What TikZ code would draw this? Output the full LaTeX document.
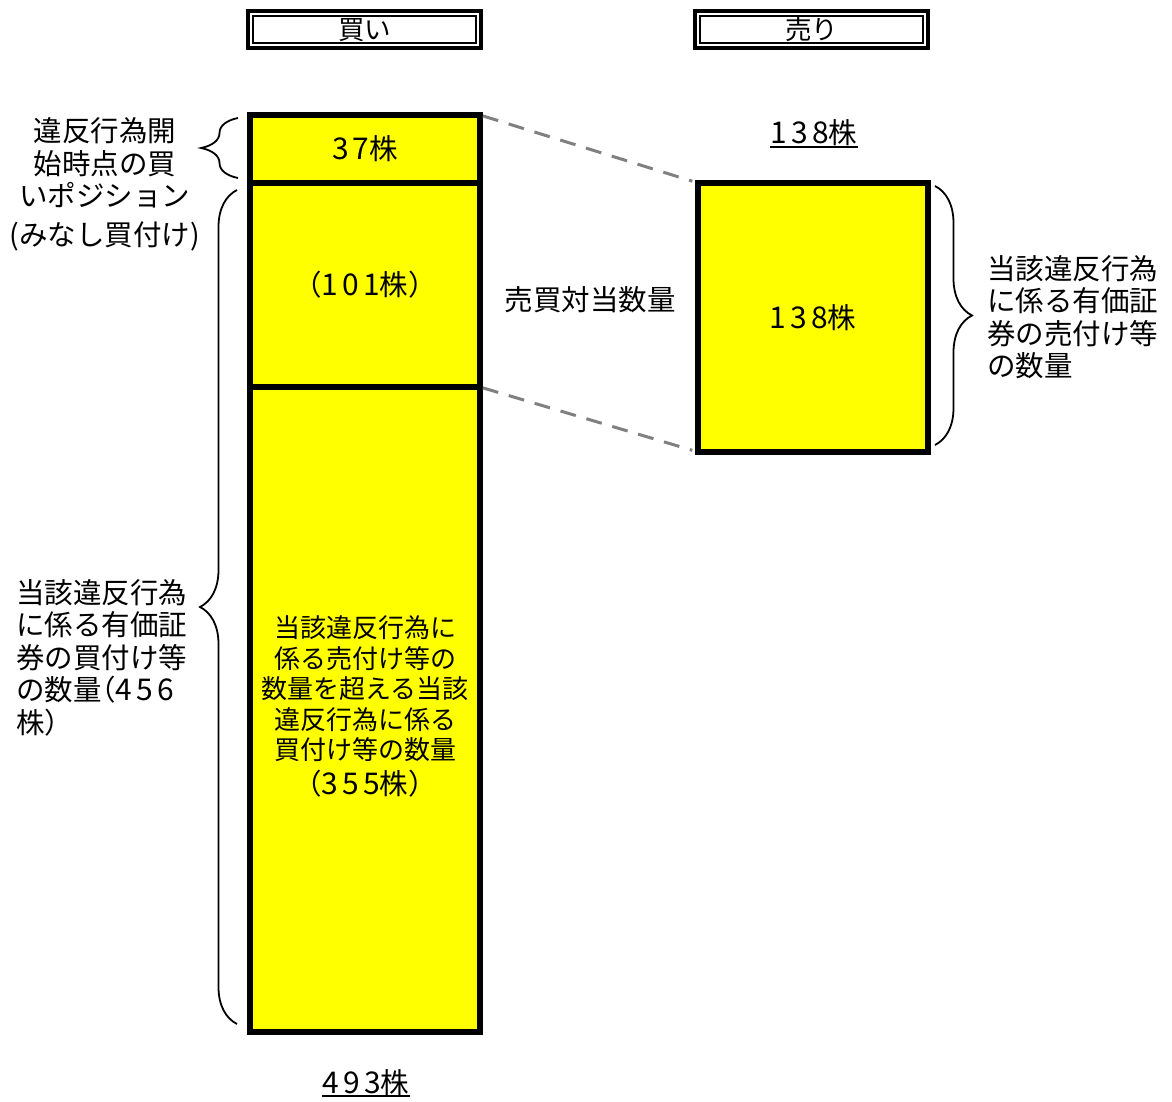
\documentclass[tikz,border=0pt]{standalone}
\usepackage{fontspec}
\setmainfont{Noto Sans CJK JP}
\newfontfamily\dgfont{Noto Sans CJK JP}[LetterSpace=14,Scale=1.05]
\newfontfamily\hwfont{Noto Sans CJK JP}[RawFeature=+halt]
\newcommand\dg[1]{{\dgfont #1}}
\newcommand\hw[1]{{\hwfont #1}}
\definecolor{yel}{RGB}{255,255,0}
\definecolor{dashgray}{RGB}{128,128,128}
\usetikzlibrary{decorations.pathreplacing}
\tikzset{
  bar/.style={draw=black, line width=6pt, fill=yel, inner sep=0pt, outer sep=0pt,
    minimum width=230pt, align=center},
  hdr/.style={draw=black, line width=4pt, inner sep=0pt, outer sep=0pt,
    minimum width=233pt, minimum height=36.7pt, font=\fontsize{26.5}{30}\selectfont},
  lbl/.style={inner sep=0pt, font=\fontsize{28.5}{32.5}\selectfont},
  gdash/.style={draw=dashgray, line width=3pt, dash pattern=on 16pt off 11pt},
  brc/.style={draw=black, line width=1.8pt, decorate, decoration={brace, amplitude=37pt}},
}
\begin{document}
\begin{tikzpicture}[x=1pt,y=-1pt]
\useasboundingbox (0,0) rectangle (1172,1102);
% headers
\node[hdr] (h1) at (364.5,29.6) {\raisebox{-2pt}{買い}};
\draw[line width=2pt] ([shift={(5,5)}]h1.north west) rectangle ([shift={(-5,-5)}]h1.south east);
\node[hdr] (h2) at (811.5,29.6) {\raisebox{-2pt}{売り}};
\draw[line width=2pt] ([shift={(5,5)}]h2.north west) rectangle ([shift={(-5,-5)}]h2.south east);
% buy column
\node[bar, minimum height=68pt, lbl] (top) at (365,149) {\dg{37}株};
\node[bar, minimum height=204pt, lbl] (mid) at (365,285) {（\dg{101}株）};
\node[bar, minimum height=645pt] (bot) at (365,709.5) {};
\node[inner sep=0pt, align=center, font=\fontsize{26}{30.5}\selectfont] (botlbl) at (365,706.5) {%
  当該違反行為に\\ 係る売付け等の\\ 数量を超える当該\\ 違反行為に係る\\ 買付け等の数量\\[4.5pt]
  \fontsize{28.5}{32}\selectfont （\dg{355}株）};
% sell box
\node[bar, minimum height=269pt, lbl] (rb) at (813,317.5) {\dg{138}株};
% dashed connectors
\draw[gdash, shorten <=3pt, shorten >=6pt] (top.north east) -- (rb.north west);
\draw[gdash, shorten <=3pt, shorten >=6pt] (mid.south east) -- (rb.south west);
% labels
\node[lbl] (match) at (590,300) {売買対当数量};
\node[lbl] (sellnum) at (814,133) {\dg{138}株};
\draw[line width=2pt] ([yshift=-1pt]sellnum.south west) -- ([yshift=-1pt]sellnum.south east);
\node[lbl] (buynum) at (366,1083) {\dg{493}株};
\draw[line width=2pt] ([yshift=0pt]buynum.south west) -- ([yshift=0pt]buynum.south east);
\node[lbl, align=center] (ltop) at (105,184.5) {違反行為開\\ 始時点の買\\ いポジション\\[6pt] (みなし買付け)};
\node[lbl, align=left, anchor=west] (lbot) at (16,657.5) {当該違反行為\\ に係る有価証\\ 券の買付け等\\ の数量\hw{（}\dg{456}\\ 株\hw{）}};
\node[lbl, align=left, anchor=west] (rlab) at (987,317) {当該違反行為\\ に係る有価証\\ 券の売付け等\\ の数量};
% braces
\coordinate (b1s) at (238,178);
\coordinate (b1e) at (238,118);
\draw[brc] (b1s) -- (b1e);
\coordinate (b2s) at (237,1024);
\coordinate (b2e) at (237,190);
\draw[brc] (b2s) -- (b2e);
\coordinate (b3s) at (935,186);
\coordinate (b3e) at (935,445);
\draw[brc] (b3s) -- (b3e);
\end{tikzpicture}
\end{document}
